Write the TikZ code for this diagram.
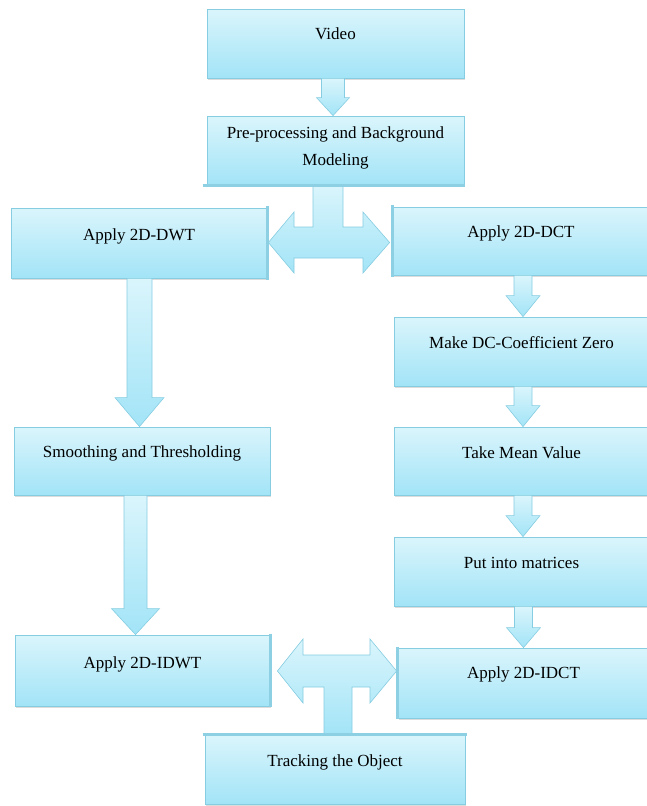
\documentclass[tikz,border=0pt]{standalone}
\usepackage{fontspec}
\setmainfont{Liberation Serif}
\usetikzlibrary{calc,shadows}
\definecolor{boxtop}{HTML}{DAF5FC}
\definecolor{boxbot}{HTML}{A2E4F7}
\definecolor{bordc}{HTML}{86CDE1}
\definecolor{edgec}{HTML}{8ED0E3}
\newcommand{\bdown}[6]{%
  \path[barrow] let \p1=(#1.south), \p2=(#2.north) in
    (#3pt-#4pt,\y1) -- (#3pt+#4pt,\y1) -- (#3pt+#4pt,\y2+#6pt) -- (#3pt+#5pt,\y2+#6pt)
    -- (#3pt,\y2) -- (#3pt-#5pt,\y2+#6pt) -- (#3pt-#4pt,\y2+#6pt) -- cycle;}
\begin{document}
\begin{tikzpicture}[x=1pt,y=-1pt,
  box/.style={draw=bordc, line width=0.8pt, top color=boxtop, bottom color=boxbot,
    inner sep=0pt, font=\fontsize{17}{20}\selectfont,
    drop shadow={opacity=0.28, shadow xshift=0.8pt, shadow yshift=-1.6pt}},
  barrow/.style={draw=bordc, line width=0.6pt, top color=boxtop, bottom color=boxbot},
  thickedge/.style={draw=edgec, line width=3.5pt}]
\useasboundingbox (0,0) rectangle (647,806);

\node[box, minimum width=257pt, text height=30pt, text depth=39pt] (video) at (335.5,43.5) {Video};
\node[box, minimum width=257pt, text height=22pt, text depth=47pt] (pre) at (335.5,150.5)
  {\def\arraystretch{1.35}\begin{tabular}[t]{@{}c@{}}Pre-processing and Background\\Modeling\end{tabular}};
\node[box, minimum width=256pt, text height=32pt, text depth=38pt] (dwt) at (139,243) {Apply 2D-DWT};
\node[box, minimum width=256pt, text height=30pt, text depth=38pt] (dct) at (521,241) {Apply 2D-DCT};
\node[box, minimum width=255pt, text height=31pt, text depth=38pt] (mdc) at (521.5,351.5) {Make DC-Coefficient Zero};
\node[box, minimum width=255pt, text height=31pt, text depth=37pt] (mean) at (521.5,461) {Take Mean Value};
\node[box, minimum width=255pt, text height=31pt, text depth=38pt] (put) at (521.5,571.5) {Put into matrices};
\node[box, minimum width=251pt, text height=30pt, text depth=40pt] (idct) at (523.5,683) {Apply 2D-IDCT};
\node[box, minimum width=256pt, text height=30pt, text depth=38pt] (smooth) at (142,461) {Smoothing and Thresholding};
\node[box, minimum width=255pt, text height=33pt, text depth=38pt] (idwt) at (142.5,670.5) {Apply 2D-IDWT};
\node[box, minimum width=260pt, text height=31pt, text depth=38pt] (track) at (335,769.5) {Tracking the Object};

\bdown{video}{pre}{333}{11.5}{16.5}{18}
\bdown{dwt}{smooth}{139.5}{12.5}{24.5}{29}
\bdown{smooth}{idwt}{135.5}{11.5}{24}{26}
\bdown{dct}{mdc}{523}{9}{17}{21}
\bdown{mdc}{mean}{523}{9}{17}{21}
\bdown{mean}{put}{523}{9}{17}{21}
\bdown{put}{idct}{523.5}{9}{17}{20}

\path[barrow] let \p1=(pre.south), \p2=(dwt.east), \p3=(dct.west) in
  (313pt,\y1) -- (343pt,\y1) -- (343pt,-227pt) -- (363pt,-227pt) -- (363pt,-212pt)
  -- (\x3-3pt,-242.5pt) -- (363pt,-273pt) -- (363pt,-258pt) -- (294pt,-258pt)
  -- (294pt,-273pt) -- (\x2+1pt,-242.5pt) -- (294pt,-212pt) -- (294pt,-227pt)
  -- (313pt,-227pt) -- cycle;

\path[barrow] let \p1=(track.north), \p2=(idwt.east), \p3=(idct.west) in
  (324pt,\y1) -- (324pt,-687pt) -- (303pt,-687pt) -- (303pt,-703pt)
  -- (\x2+7pt,-671pt) -- (303pt,-639pt) -- (303pt,-655pt) -- (370pt,-655pt)
  -- (370pt,-639pt) -- (\x3-1pt,-671pt) -- (370pt,-703pt) -- (370pt,-687pt)
  -- (352pt,-687pt) -- (352pt,\y1) -- cycle;

\draw[thickedge] ([yshift=2pt]dwt.north east) -- ([yshift=-2pt]dwt.south east);
\draw[thickedge] ([yshift=2pt]dct.north west) -- ([yshift=-2pt]dct.south west);
\draw[thickedge] ([yshift=1pt]idwt.north east) -- ([yshift=-1pt]idwt.south east);
\draw[thickedge] ([yshift=1pt]idct.north west) -- ([yshift=-1pt]idct.south west);
\draw[thickedge] ([xshift=-2pt]track.north west) -- ([xshift=2pt]track.north east);
\draw[thickedge] ([xshift=-4pt]pre.south west) -- ([xshift=1pt]pre.south east);
\end{tikzpicture}
\end{document}
